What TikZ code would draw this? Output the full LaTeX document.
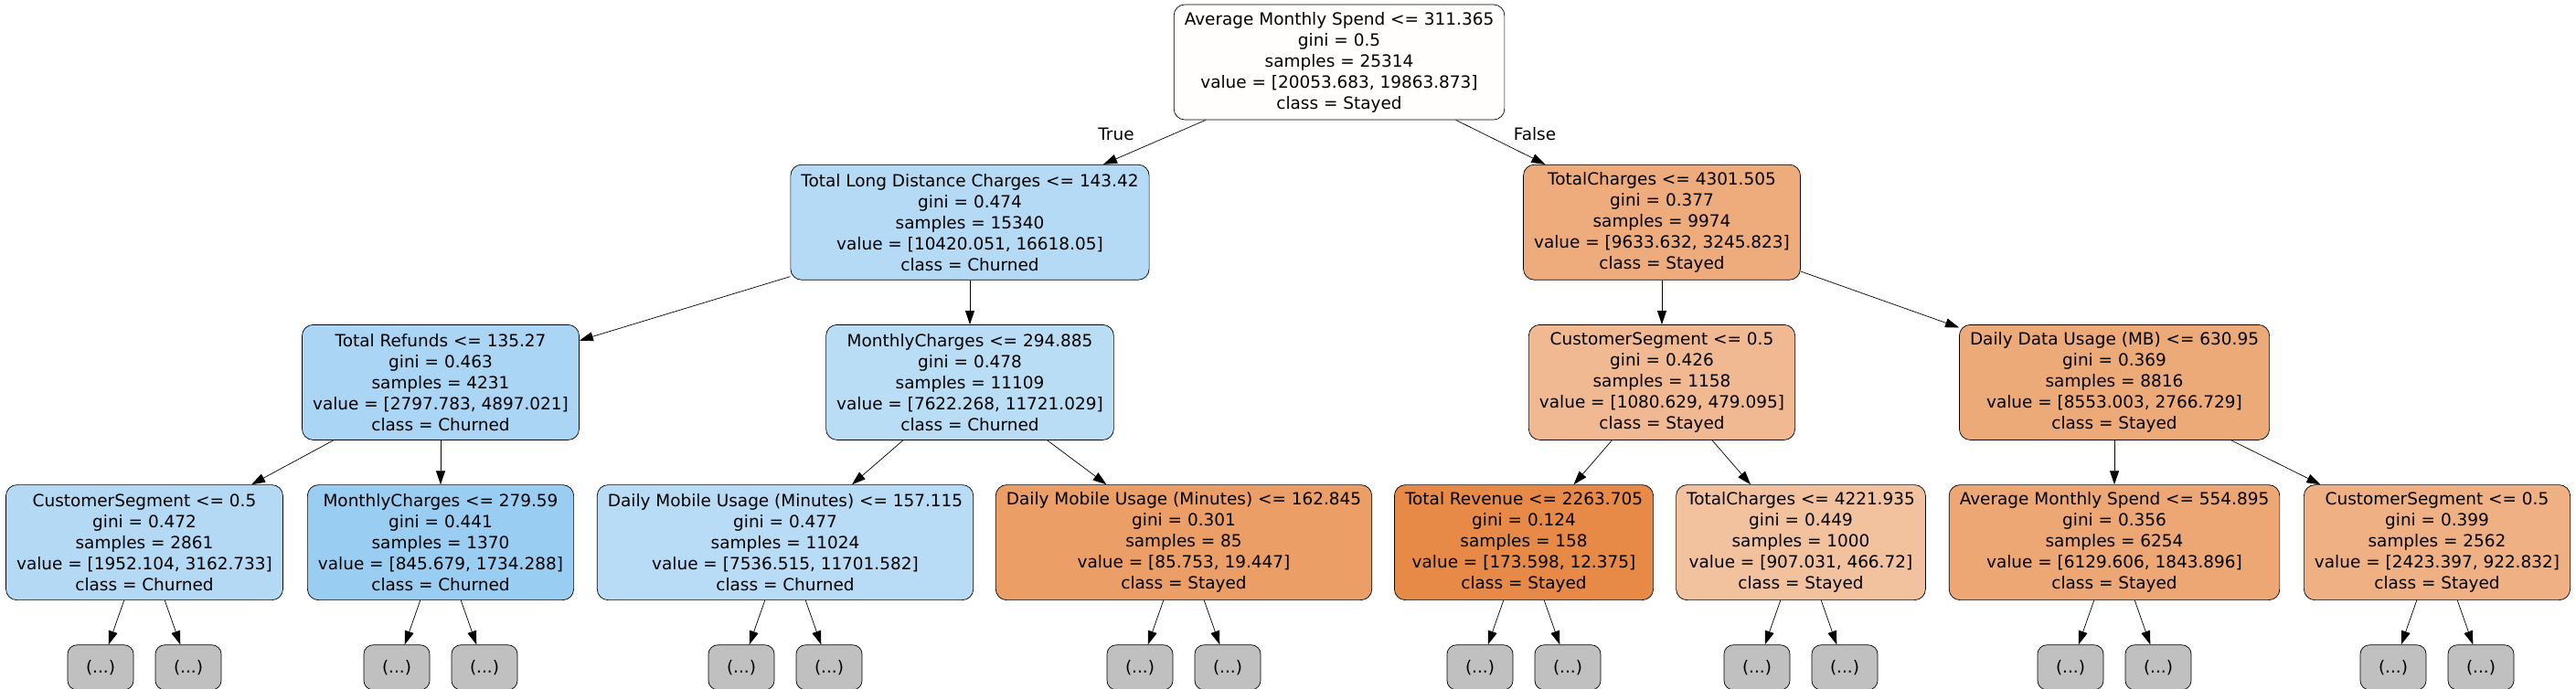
\documentclass[tikz,border=0pt]{standalone}
\usepackage{fontspec}
\setmainfont{DejaVu Sans}
\usetikzlibrary{positioning,arrows.meta}
\definecolor{rootfill}{HTML}{FFFEFD}
\definecolor{ldcfill}{HTML}{B5DAF5}
\definecolor{tcafill}{HTML}{EEAB7C}
\definecolor{reffill}{HTML}{AAD5F4}
\definecolor{mcafill}{HTML}{BADDF6}
\definecolor{csafill}{HTML}{F1B991}
\definecolor{ddufill}{HTML}{EDAA79}
\definecolor{csbfill}{HTML}{B3D9F5}
\definecolor{mcbfill}{HTML}{9ACDF2}
\definecolor{dmafill}{HTML}{B9DCF6}
\definecolor{dmbfill}{HTML}{EB9E66}
\definecolor{revfill}{HTML}{E78A47}
\definecolor{tcbfill}{HTML}{F2C29F}
\definecolor{amsfill}{HTML}{EDA775}
\definecolor{cscfill}{HTML}{EFB184}
\definecolor{leafgray}{HTML}{C0C0C0}
\tikzset{
->,
>={Triangle[length=0.3cm,width=0.2cm]},
line width=0.8pt,
node distance=0.97cm,
every node/.style={font=\fontsize{10.5pt}{13.1pt}\selectfont},
split/.style={draw, rounded corners=0.24cm, align=center, minimum height=2.52cm, inner xsep=6.6pt},
leaf/.style={draw, rounded corners=0.2cm, fill=leafgray, minimum width=1.44cm, minimum height=0.98cm},
}

\begin{document}
\begin{tikzpicture}
        \useasboundingbox (0,0) rectangle (56.36,-15.06);

        \node[split,fill=rootfill] (root) at (29.3,-1.36) {Average Monthly Spend <= 311.365\\gini = 0.5\\samples = 25314\\value = [20053.683, 19863.873]\\class = Stayed};

        \node[split,fill=ldcfill,below=of root,xshift=-8.08cm] (ldc) {Total Long Distance Charges <= 143.42\\gini = 0.474\\samples = 15340\\value = [10420.051, 16618.05]\\class = Churned};
        \node[split,fill=tcafill,below=of root,xshift=7.06cm] (tca) {TotalCharges <= 4301.505\\gini = 0.377\\samples = 9974\\value = [9633.632, 3245.823]\\class = Stayed};
        \draw (root) -- (ldc);
        \draw (root) -- (tca);
        \node (true) at (24.42,-2.94) {True};
        \node (false) at (33.58,-2.94) {False};

        \node[split,fill=reffill,below=of ldc,xshift=-11.58cm] (ref) {Total Refunds <= 135.27\\gini = 0.463\\samples = 4231\\value = [2797.783, 4897.021]\\class = Churned};
        \node[split,fill=mcafill,below=of ldc] (mca) {MonthlyCharges <= 294.885\\gini = 0.478\\samples = 11109\\value = [7622.268, 11721.029]\\class = Churned};
        \node[split,fill=csafill,below=of tca] (csa) {CustomerSegment <= 0.5\\gini = 0.426\\samples = 1158\\value = [1080.629, 479.095]\\class = Stayed};
        \node[split,fill=ddufill,below=of tca,xshift=9.9cm] (ddu) {Daily Data Usage (MB) <= 630.95\\gini = 0.369\\samples = 8816\\value = [8553.003, 2766.729]\\class = Stayed};
        \draw (ldc) -- (ref);
        \draw (ldc) -- (mca);
        \draw (tca) -- (csa);
        \draw (tca) -- (ddu);

        \node[split,fill=csbfill,below=of ref,xshift=-6.48cm] (csb) {CustomerSegment <= 0.5\\gini = 0.472\\samples = 2861\\value = [1952.104, 3162.733]\\class = Churned};
        \node[split,fill=mcbfill,below=of ref] (mcb) {MonthlyCharges <= 279.59\\gini = 0.441\\samples = 1370\\value = [845.679, 1734.288]\\class = Churned};
        \node[split,fill=dmafill,below=of mca,xshift=-4.04cm] (dma) {Daily Mobile Usage (Minutes) <= 157.115\\gini = 0.477\\samples = 11024\\value = [7536.515, 11701.582]\\class = Churned};
        \node[split,fill=dmbfill,below=of mca,xshift=4.68cm] (dmb) {Daily Mobile Usage (Minutes) <= 162.845\\gini = 0.301\\samples = 85\\value = [85.753, 19.447]\\class = Stayed};
        \node[split,fill=revfill,below=of csa,xshift=-3.02cm] (rev) {Total Revenue <= 2263.705\\gini = 0.124\\samples = 158\\value = [173.598, 12.375]\\class = Stayed};
        \node[split,fill=tcbfill,below=of csa,xshift=3.04cm] (tcb) {TotalCharges <= 4221.935\\gini = 0.449\\samples = 1000\\value = [907.031, 466.72]\\class = Stayed};
        \node[split,fill=amsfill,below=of ddu] (ams) {Average Monthly Spend <= 554.895\\gini = 0.356\\samples = 6254\\value = [6129.606, 1843.896]\\class = Stayed};
        \node[split,fill=cscfill,below=of ddu,xshift=7.06cm] (csc) {CustomerSegment <= 0.5\\gini = 0.399\\samples = 2562\\value = [2423.397, 922.832]\\class = Stayed};
        \draw (ref) -- (csb);
        \draw (ref) -- (mcb);
        \draw (mca) -- (dma);
        \draw (mca) -- (dmb);
        \draw (csa) -- (rev);
        \draw (csa) -- (tcb);
        \draw (ddu) -- (ams);
        \draw (ddu) -- (csc);

        % truncated subtrees
        \node[leaf,below=of csb,xshift=-0.96cm] (csb1) {(...)};
        \node[leaf,below=of csb,xshift=0.96cm] (csb2) {(...)};
        \node[leaf,below=of mcb,xshift=-0.96cm] (mcb1) {(...)};
        \node[leaf,below=of mcb,xshift=0.96cm] (mcb2) {(...)};
        \node[leaf,below=of dma,xshift=-0.96cm] (dma1) {(...)};
        \node[leaf,below=of dma,xshift=0.96cm] (dma2) {(...)};
        \node[leaf,below=of dmb,xshift=-0.96cm] (dmb1) {(...)};
        \node[leaf,below=of dmb,xshift=0.96cm] (dmb2) {(...)};
        \node[leaf,below=of rev,xshift=-0.96cm] (rev1) {(...)};
        \node[leaf,below=of rev,xshift=0.96cm] (rev2) {(...)};
        \node[leaf,below=of tcb,xshift=-0.96cm] (tcb1) {(...)};
        \node[leaf,below=of tcb,xshift=0.96cm] (tcb2) {(...)};
        \node[leaf,below=of ams,xshift=-0.96cm] (ams1) {(...)};
        \node[leaf,below=of ams,xshift=0.96cm] (ams2) {(...)};
        \node[leaf,below=of csc,xshift=-0.96cm] (csc1) {(...)};
        \node[leaf,below=of csc,xshift=0.96cm] (csc2) {(...)};
        \draw (csb) -- (csb1);
        \draw (csb) -- (csb2);
        \draw (mcb) -- (mcb1);
        \draw (mcb) -- (mcb2);
        \draw (dma) -- (dma1);
        \draw (dma) -- (dma2);
        \draw (dmb) -- (dmb1);
        \draw (dmb) -- (dmb2);
        \draw (rev) -- (rev1);
        \draw (rev) -- (rev2);
        \draw (tcb) -- (tcb1);
        \draw (tcb) -- (tcb2);
        \draw (ams) -- (ams1);
        \draw (ams) -- (ams2);
        \draw (csc) -- (csc1);
        \draw (csc) -- (csc2);

    \end{tikzpicture}
\end{document}
